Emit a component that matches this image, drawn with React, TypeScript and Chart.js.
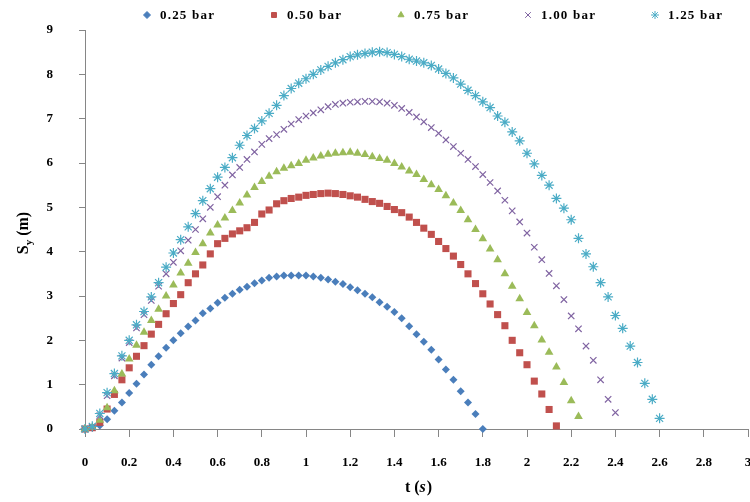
import React, { useEffect, useRef } from "react";
import { Chart, registerables } from "chart.js";
import { drawPoint } from "chart.js/helpers";

Chart.register(...registerables);

// time (s), sampled every 1/30 s
const TIME = [
  0, 0.033, 0.067, 0.1, 0.133, 0.167, 0.2, 0.233, 0.267, 0.3,
  0.333, 0.367, 0.4, 0.433, 0.467, 0.5, 0.533, 0.567, 0.6, 0.633,
  0.667, 0.7, 0.733, 0.767, 0.8, 0.833, 0.867, 0.9, 0.933, 0.967,
  1.0, 1.033, 1.067, 1.1, 1.133, 1.167, 1.2, 1.233, 1.267, 1.3,
  1.333, 1.367, 1.4, 1.433, 1.467, 1.5, 1.533, 1.567, 1.6, 1.633,
  1.667, 1.7, 1.733, 1.767, 1.8, 1.833, 1.867, 1.9, 1.933, 1.967,
  2.0, 2.033, 2.067, 2.1, 2.133, 2.167, 2.2, 2.233, 2.267, 2.3,
  2.333, 2.367, 2.4, 2.433, 2.467, 2.5, 2.533, 2.567, 2.6,
];

const SERIES_LABELS = ["0.25 bar", "0.50 bar", "0.75 bar", "1.00 bar", "1.25 bar"];

const S_025 = [
  0, 0.02, 0.08, 0.22, 0.41, 0.6, 0.81, 1.02, 1.23, 1.45,
  1.64, 1.83, 2.0, 2.16, 2.31, 2.45, 2.61, 2.72, 2.85, 2.96,
  3.05, 3.14, 3.21, 3.29, 3.35, 3.41, 3.44, 3.46, 3.46, 3.46,
  3.46, 3.44, 3.41, 3.37, 3.32, 3.27, 3.2, 3.13, 3.05, 2.97,
  2.86, 2.76, 2.64, 2.5, 2.32, 2.14, 1.97, 1.79, 1.57, 1.34,
  1.11, 0.85, 0.6, 0.34, 0.0,
];

const S_050 = [
  0, 0.03, 0.15, 0.45, 0.78, 1.11, 1.38, 1.64, 1.88, 2.14,
  2.36, 2.6, 2.83, 3.03, 3.3, 3.5, 3.7, 3.95, 4.18, 4.3,
  4.4, 4.47, 4.54, 4.66, 4.85, 4.94, 5.08, 5.15, 5.2, 5.23,
  5.27, 5.29, 5.31, 5.32, 5.31, 5.29, 5.26, 5.23, 5.18, 5.13,
  5.09, 5.02, 4.95, 4.88, 4.78, 4.66, 4.53, 4.39, 4.23, 4.07,
  3.9, 3.71, 3.5, 3.28, 3.05, 2.82, 2.58, 2.33, 2.0, 1.72,
  1.45, 1.08, 0.79, 0.44, 0.07,
];

const S_075 = [
  0, 0.04, 0.2, 0.48, 0.86, 1.24, 1.58, 1.89, 2.18, 2.45,
  2.7, 3.0, 3.25, 3.52, 3.74, 3.98, 4.18, 4.42, 4.6, 4.76,
  4.93, 5.1, 5.28, 5.45, 5.58, 5.7, 5.8, 5.88, 5.94, 5.99,
  6.06, 6.11, 6.16, 6.2, 6.22, 6.23, 6.24, 6.22, 6.19, 6.14,
  6.1, 6.06, 5.99, 5.91, 5.82, 5.74, 5.63, 5.51, 5.4, 5.26,
  5.1, 4.93, 4.72, 4.5, 4.29, 4.06, 3.82, 3.5, 3.22, 2.94,
  2.63, 2.33, 2.01, 1.73, 1.4, 1.05, 0.64, 0.28,
];

const S_100 = [
  0, 0.05, 0.3, 0.75, 1.2, 1.6, 1.95, 2.28, 2.58, 2.9,
  3.22, 3.5, 3.76, 4.02, 4.26, 4.5, 4.74, 5.0, 5.24, 5.5,
  5.73, 5.9, 6.08, 6.25, 6.42, 6.55, 6.64, 6.76, 6.88, 6.98,
  7.06, 7.13, 7.2, 7.27, 7.32, 7.35, 7.37, 7.38, 7.39, 7.39,
  7.38, 7.35, 7.3, 7.23, 7.14, 7.04, 6.93, 6.8, 6.67, 6.52,
  6.37, 6.22, 6.08, 5.92, 5.74, 5.56, 5.37, 5.16, 4.92, 4.67,
  4.42, 4.1, 3.82, 3.51, 3.23, 2.92, 2.55, 2.26, 1.87, 1.55,
  1.11, 0.67, 0.37,
];

const S_125 = [
  0, 0.06, 0.35, 0.82, 1.25, 1.65, 2.0, 2.35, 2.65, 2.98,
  3.3, 3.65, 3.97, 4.27, 4.56, 4.86, 5.15, 5.42, 5.68, 5.9,
  6.12, 6.4, 6.62, 6.78, 6.95, 7.12, 7.3, 7.52, 7.68, 7.8,
  7.9, 8.0, 8.1, 8.18, 8.26, 8.33, 8.4, 8.44, 8.47, 8.5,
  8.51, 8.49, 8.45, 8.4, 8.34, 8.3, 8.26, 8.2, 8.12, 8.02,
  7.92, 7.78, 7.64, 7.52, 7.38, 7.25, 7.06, 6.92, 6.7, 6.5,
  6.22, 5.98, 5.72, 5.5, 5.2, 4.98, 4.72, 4.3, 3.95, 3.66,
  3.3, 2.98, 2.56, 2.27, 1.87, 1.5, 1.03, 0.67, 0.24,
];

const X_MIN = 0;
const X_MAX = 3;
const X_STEP = 0.2;
const Y_MIN = 0;
const Y_MAX = 9;
const Y_STEP = 1;

const FONT = '"Liberation Serif", "Times New Roman", serif';
const AXIS_GREY = "#868686";

const toPoints = (ys: number[]) => ys.map((y, i) => ({ x: TIME[i], y }));

const textPlugin = {
  id: "customText",
  afterDraw(chart: any) {
    const ctx: any = chart.ctx;
    ctx.save();
    // legend
    const legendX0 = 147;
    const legendStep = 127;
    const legendY = 15;
    chart.data.datasets.forEach((d: any, i: number) => {
      const mx = legendX0 + i * legendStep;
      ctx.save();
      ctx.fillStyle = d.backgroundColor;
      ctx.strokeStyle = d.borderColor;
      ctx.lineWidth = 1;
      drawPoint(
        ctx,
        { pointStyle: d.pointStyle, radius: d.pointStyle === "star" || d.pointStyle === "crossRot" ? 4 : 3.5, borderWidth: 1, rotation: 0 } as any,
        mx,
        legendY
      );
      ctx.restore();
      ctx.save();
      ctx.fillStyle = "#000";
      ctx.font = `bold 13px ${FONT}`;
      ctx.textBaseline = "middle";
      ctx.textAlign = "left";
      if ("letterSpacing" in ctx) ctx.letterSpacing = "1.2px";
      ctx.fillText(d.label, mx + 13, legendY + 1);
      ctx.restore();
    });

    // y title: S_y (m)
    ctx.save();
    ctx.translate(24, 233);
    ctx.rotate(-Math.PI / 2);
    ctx.fillStyle = "#000";
    ctx.textBaseline = "middle";
    ctx.textAlign = "left";
    const big = `bold 16px ${FONT}`;
    const small = `bold 11px ${FONT}`;
    ctx.font = big;
    const wS = ctx.measureText("S").width;
    const wRest = ctx.measureText(" (m)").width;
    ctx.font = small;
    const wy = ctx.measureText("y").width;
    const total = wS + wy + wRest;
    let x = -total / 2;
    ctx.font = big;
    ctx.fillText("S", x, 0);
    x += wS;
    ctx.font = small;
    ctx.fillText("y", x, 5);
    x += wy;
    ctx.font = big;
    ctx.fillText(" (m)", x, 0);
    ctx.restore();

    // x title: t (s)
    ctx.save();
    ctx.fillStyle = "#000";
    ctx.textBaseline = "middle";
    ctx.textAlign = "left";
    const xb = `bold 16px ${FONT}`;
    const xi = `italic bold 16px ${FONT}`;
    ctx.font = xb;
    const a = ctx.measureText("t (").width;
    const c = ctx.measureText(")").width;
    ctx.font = xi;
    const b = ctx.measureText("s").width;
    let tx = 418 - (a + b + c) / 2;
    ctx.font = xb;
    ctx.fillText("t (", tx, 488);
    tx += a;
    ctx.font = xi;
    ctx.fillText("s", tx, 488);
    tx += b + 1;
    ctx.font = xb;
    ctx.fillText(")", tx, 488);
    ctx.restore();

    ctx.restore();
  },
};

const zeroPad = (scale: any) => {
  scale.paddingLeft = 0;
  scale.paddingRight = 0;
  scale.paddingTop = 0;
  scale.paddingBottom = 0;
};

export default function App() {
  const ref = useRef<HTMLCanvasElement | null>(null);

  useEffect(() => {
    if (!ref.current) return;
    const common = { showLine: false, clip: false as any };
    const chart = new Chart(ref.current, {
      type: "scatter",
      data: {
        datasets: [
          {
            ...common,
            label: SERIES_LABELS[0],
            data: toPoints(S_025),
            pointStyle: "rectRot",
            pointRadius: 4,
            backgroundColor: "#4A7EBB",
            borderColor: "#4A7EBB",
            borderWidth: 0,
            order: 5,
          },
          {
            ...common,
            label: SERIES_LABELS[1],
            data: toPoints(S_050),
            pointStyle: "rect",
            pointRadius: 5,
            backgroundColor: "#C0504D",
            borderColor: "#C0504D",
            borderWidth: 0,
            order: 4,
          },
          {
            ...common,
            label: SERIES_LABELS[2],
            data: toPoints(S_075),
            pointStyle: "triangle",
            pointRadius: 5,
            backgroundColor: "#9BBB59",
            borderColor: "#9BBB59",
            borderWidth: 0,
            order: 3,
          },
          {
            ...common,
            label: SERIES_LABELS[3],
            data: toPoints(S_100),
            pointStyle: "crossRot",
            pointRadius: 4.5,
            backgroundColor: "#8064A2",
            borderColor: "#8064A2",
            borderWidth: 1.2,
            order: 2,
          },
          {
            ...common,
            label: SERIES_LABELS[4],
            data: toPoints(S_125),
            pointStyle: "star",
            pointRadius: 5,
            backgroundColor: "#4BACC6",
            borderColor: "#4BACC6",
            borderWidth: 1.2,
            order: 1,
          },
        ] as any,
      },
      options: {
        animation: false,
        responsive: false,
        layout: { padding: { top: 30, right: 2, left: 0, bottom: 0 }, autoPadding: false } as any,
        plugins: {
          legend: { display: false },
          tooltip: { enabled: false },
          title: { display: false },
        },
        scales: {
          x: {
            type: "linear",
            min: X_MIN,
            max: X_MAX,
            ticks: {
              stepSize: X_STEP,
              padding: 18,
              color: "#000",
              font: { family: FONT, size: 13, weight: "bold" },
              maxRotation: 0,
              autoSkip: false,
              callback: (v: any) => String(Number(Number(v).toFixed(1))),
            },
            grid: {
              drawOnChartArea: false,
              drawTicks: true,
              tickLength: 8,
              color: AXIS_GREY,
            },
            border: { color: AXIS_GREY, width: 1 },
            afterFit: (scale: any) => {
              scale.height = 73;
              zeroPad(scale);
            },
          } as any,
          y: {
            type: "linear",
            min: Y_MIN,
            max: Y_MAX,
            ticks: {
              stepSize: Y_STEP,
              padding: 26,
              color: "#000",
              font: { family: FONT, size: 13, weight: "bold" },
            },
            grid: {
              drawOnChartArea: false,
              drawTicks: true,
              tickLength: 6,
              color: AXIS_GREY,
            },
            border: { color: AXIS_GREY, width: 1 },
            afterFit: (scale: any) => {
              scale.width = 85;
              zeroPad(scale);
            },
          } as any,
        },
      },
      plugins: [textPlugin],
    });
    return () => chart.destroy();
  }, []);

  return (
    <canvas
      ref={ref}
      width={750}
      height={502}
      style={{ position: "absolute", left: 0, top: 0, width: 750, height: 502, display: "block", background: "#fff" }}
    />
  );
}
